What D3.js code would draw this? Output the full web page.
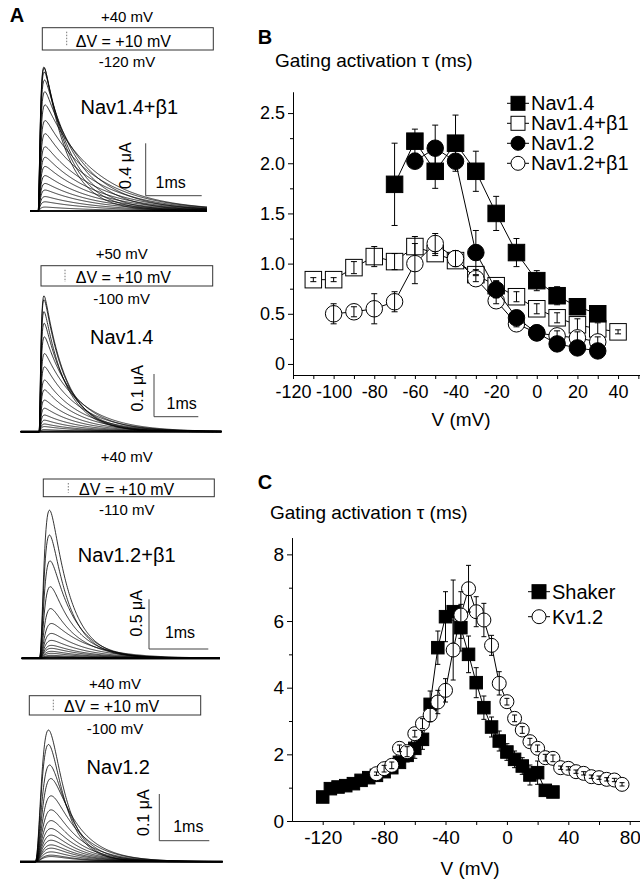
<!DOCTYPE html>
<html>
<head>
<meta charset="utf-8">
<script src="https://cdn.jsdelivr.net/npm/d3@7"></script>
<style>
  body { margin: 0; background: #fff; }
  svg { display: block; }
  text { font-family: "Liberation Sans", Arial, sans-serif; fill: #000; }
</style>
</head>
<body>
<div id="fig"></div>
<script>
// ---------- Panel B data: gating activation tau (ms) vs V (mV) ----------
const nav14V = [-70, -60, -50, -40, -30, -20, -10, 0, 10, 20, 30];
const nav14Tau = [1.79, 2.22, 1.92, 2.20, 1.92, 1.50, 1.11, 0.83, 0.68, 0.57, 0.50];
const nav14Err = [0.41, 0.12, 0.17, 0.28, 0.20, 0.17, 0.14, 0.10, 0.09, 0.05, 0.05];

const nav14b1V = [-110, -100, -90, -80, -70, -60, -50, -40, -30, -20, -10, 0, 10, 20, 30, 40];
const nav14b1Tau = [0.84, 0.84, 0.96, 1.07, 1.02, 1.17, 1.10, 1.03, 0.89, 0.78, 0.67, 0.55, 0.46, 0.39, 0.35, 0.32];
const nav14b1Err = [0.02, 0.02, 0.06, 0.10, 0.08, 0.10, 0.02, 0.02, 0.05, 0.05, 0.05, 0.05, 0.05, 0.06, 0.06, 0.02];

const nav12V = [-60, -50, -40, -30, -20, -10, 0, 10, 20, 30];
const nav12Tau = [2.02, 2.15, 2.02, 1.11, 0.74, 0.46, 0.31, 0.20, 0.16, 0.13];
const nav12Err = [0.05, 0.23, 0.05, 0.22, 0.08, 0.05, 0.03, 0.03, 0.03, 0.02];

const nav12b1V = [-100, -90, -80, -70, -60, -50, -40, -30, -20, -10, 0, 10, 20, 30];
const nav12b1Tau = [0.50, 0.52, 0.55, 0.62, 1.00, 1.20, 1.05, 0.85, 0.63, 0.40, 0.31, 0.28, 0.26, 0.22];
const nav12b1Err = [0.10, 0.05, 0.15, 0.10, 0.20, 0.10, 0.08, 0.03, 0.03, 0.03, 0.05, 0.05, 0.06, 0.05];

// ---------- Panel C data ----------
const shakerV = [-120, -115, -110, -105, -100, -95, -90, -85, -80, -75, -70, -65, -60, -55, -50, -45,
  -40, -35, -30, -25, -20, -15, -10, -5, 0, 5, 10, 15, 20, 25, 30];
const shakerTau = [0.72, 0.97, 1.02, 1.06, 1.12, 1.22, 1.30, 1.37, 1.48, 1.60, 1.76, 1.97, 2.18, 2.45, 3.50, 5.20,
  6.13, 6.28, 5.80, 5.00, 4.15, 3.40, 2.82, 2.40, 2.07, 1.85, 1.65, 1.38, 1.45, 0.92, 0.87];
const shakerErr = [0.05, 0.05, 0.05, 0.05, 0.05, 0.05, 0.05, 0.08, 0.08, 0.1, 0.12, 0.2, 0.3, 0.3, 0.4, 0.5,
  0.75, 0.95, 0.7, 0.55, 0.45, 0.35, 0.3, 0.3, 0.25, 0.25, 0.25, 0.3, 0.35, 0.05, 0.05];

const kv12V = [-85, -80, -75, -70, -65, -60, -55, -50, -45, -40, -35, -30, -25, -20, -15, -10, -5,
  0, 5, 10, 15, 20, 25, 30, 35, 40, 45, 50, 55, 60, 65, 70, 75];
const kv12Tau = [1.42, 1.57, 1.67, 2.18, 2.08, 2.62, 2.92, 3.18, 3.57, 3.92, 5.13, 6.18, 6.97, 6.28, 6.03, 5.27, 4.13,
  3.58, 3.08, 2.73, 2.38, 2.18, 1.90, 1.88, 1.60, 1.58, 1.48, 1.43, 1.33, 1.30, 1.25, 1.23, 1.10];
const kv12Err = [0.05, 0.1, 0.1, 0.1, 0.15, 0.1, 0.15, 0.2, 0.35, 0.35, 0.9, 0.7, 0.7, 0.45, 0.5, 0.3, 0.35,
  0.1, 0.1, 0.1, 0.1, 0.1, 0.1, 0.1, 0.05, 0.05, 0.05, 0.05, 0.05, 0.05, 0.05, 0.05, 0.05];

// ---------- Panel A data: gating current peaks (uA), one per test pulse ----------
const aNav14b1V = [-120, -110, -100, -90, -80, -70, -60, -50, -40, -30, -20, -10, 0, 10, 20, 30, 40];
const aNav14b1Peak = [0.03, 0.07, 0.11, 0.16, 0.21, 0.27, 0.34, 0.41, 0.49, 0.59, 0.69, 0.81, 0.91, 1.00, 1.06, 1.09, 1.10];

const aNav14V = [-100, -90, -80, -70, -60, -50, -40, -30, -20, -10, 0, 10, 20, 30, 40, 50];
const aNav14Peak = [0.005, 0.012, 0.018, 0.027, 0.039, 0.055, 0.074, 0.098, 0.121, 0.152, 0.183, 0.222, 0.254, 0.281, 0.309, 0.318];

const aNav12b1V = [-110, -100, -90, -80, -70, -60, -50, -40, -30, -20, -10, 0, 10, 20, 30, 40];
const aNav12b1Peak = [0.01, 0.01, 0.02, 0.03, 0.05, 0.07, 0.10, 0.13, 0.18, 0.25, 0.35, 0.50, 0.72, 0.98, 1.24, 1.49];

const aNav12V = [-100, -90, -80, -70, -60, -50, -40, -30, -20, -10, 0, 10, 20, 30, 40];
const aNav12Peak = [0.011, 0.014, 0.021, 0.029, 0.036, 0.046, 0.057, 0.071, 0.088, 0.111, 0.141, 0.178, 0.207, 0.251, 0.282];

// ---------- figure ----------
const W = 640, H = 882;
const svg = d3.select("#fig").append("svg").attr("width", W).attr("height", H);
const font = "'Liberation Sans', Arial, sans-serif";

function label(x, y, str, size, opts = {}) {
  const t = svg.append("text")
    .attr("x", x)
    .attr("y", y + size * 0.35)
    .attr("font-size", size)
    .attr("text-anchor", opts.anchor || "middle")
    .text(str);
  if (opts.bold) t.attr("font-weight", "bold");
  if (opts.rotate) t.attr("transform", `rotate(-90, ${x}, ${y})`);
  return t;
}

// nearest tau from panel B for a given test voltage
function tauAt(v, vs, taus) {
  let best = 0;
  vs.forEach((d, i) => { if (Math.abs(d - v) < Math.abs(vs[best] - v)) best = i; });
  return taus[best];
}

/*
Panel A sub-panels: layout of each family of traces.
*/
const aPanels = [
  { name: "Nav1.4+β1", top: "+40 mV", bottom: "-120 mV", scale: "0.4 μA",
    v: aNav14b1V, peak: aNav14b1Peak, bv: nav14b1V, btau: nav14b1Tau,
    x0: 30, x1: 207, msPx: 56, onset: 38.3, base: 211, uaPx: 131,
    rise: 0.03, pow: 2, decayK: 1.3, maxTd: 0.9,
    topY: 17, box: [42.3, 27.7, 213.3, 50], dash: 66.7, dv: [123.3, 41], botY: 62, nameXY: [129.3, 107],
    bar: [145.7, 143.3, 195.7, 201.7], msXY: [170.7, 182.7], uaXY: [125, 165.7], textX: 127 },
  { name: "Nav1.4", top: "+50 mV", bottom: "-100 mV", scale: "0.1 μA",
    v: aNav14V, peak: aNav14Peak, bv: nav14V, btau: nav14Tau,
    x0: 20.7, x1: 221.7, msPx: 44.3, onset: 39.3, base: 431.7, uaPx: 427,
    rise: 0.03, pow: 2, decayK: 1.0, maxTd: 0.8,
    topY: 253.3, box: [41, 265.7, 212.7, 286], dash: 65, dv: [123.3, 277.5], botY: 299, nameXY: [121.7, 336.7],
    bar: [154, 374, 416.7, 198.3], msXY: [181.7, 403.3], uaXY: [137.7, 388.3], textX: 121.7 },
  { name: "Nav1.2+β1", top: "+40 mV", bottom: "-110 mV", scale: "0.5 μA",
    v: aNav12b1V, peak: aNav12b1Peak, bv: nav12b1V, btau: nav12b1Tau,
    x0: 21.7, x1: 220, msPx: 59.3, onset: 39.3, base: 658.3, uaPx: 99.4,
    rise: 0.06, pow: 3, decayK: 1.5, maxTd: 0.6,
    topY: 456.7, box: [43.3, 479, 214.3, 496.7], dash: 68.3, dv: [126.7, 489], botY: 510, nameXY: [126.7, 555],
    bar: [149, 599.3, 649, 208.3], msXY: [180, 632.7], uaXY: [136.7, 613.3], textX: 126.7 },
  { name: "Nav1.2", top: "+40 mV", bottom: "-100 mV", scale: "0.1 μA",
    v: aNav12V, peak: aNav12Peak, bv: nav12V, btau: nav12Tau,
    x0: 20, x1: 222.7, msPx: 50, onset: 35, base: 861.7, uaPx: 467,
    rise: 0.12, pow: 3, decayK: 2.6, maxTd: 0.55,
    topY: 683.3, box: [29.3, 695.7, 200.7, 715], dash: 53.3, dv: [111.7, 706.5], botY: 729, nameXY: [118.3, 766.7],
    bar: [159.3, 794, 840.7, 209.3], msXY: [188.3, 826.7], uaXY: [143.3, 812.7], textX: 115 }
];

label(17, 15, "A", 20, { bold: true });

aPanels.forEach(p => {
  const tEnd = (p.x1 - p.x0) / p.msPx;
  const t0 = (p.onset - p.x0) / p.msPx;
  const tx = d3.scaleLinear().domain([0, tEnd]).range([p.x0, p.x1]);
  const ty = d3.scaleLinear().domain([0, 1]).range([p.base, p.base - p.uaPx]);
  const ts = d3.range(0, tEnd + 0.001, 0.01);

  const g = svg.append("g");
  // baseline (overlapping noisy traces look thick)
  g.append("line")
    .attr("x1", p.x0).attr("x2", p.x1)
    .attr("y1", p.base).attr("y2", p.base)
    .attr("stroke", "#111").attr("stroke-width", 2.2);

  p.v.forEach((v, i) => {
    const td = Math.min(tauAt(v, p.bv, p.btau) * p.decayK, p.maxTd);
    const shape = t => {
      if (t < t0) return 0;
      const s = t - t0;
      return Math.pow(1 - Math.exp(-s / p.rise), p.pow) * Math.exp(-s / td);
    };
    const norm = d3.max(ts, shape);
    const pts = ts.map(t => [t, p.peak[i] * shape(t) / norm]);
    g.append("path")
      .datum(pts)
      .attr("fill", "none")
      .attr("stroke", "#000")
      .attr("stroke-width", 0.8)
      .attr("d", d3.line().x(d => tx(d[0])).y(d => ty(d[1])));
  });

  // protocol box
  label(p.textX, p.topY, p.top, 15);
  svg.append("rect")
    .attr("x", p.box[0]).attr("y", p.box[1])
    .attr("width", p.box[2] - p.box[0]).attr("height", p.box[3] - p.box[1])
    .attr("fill", "none").attr("stroke", "#333").attr("stroke-width", 1);
  svg.append("line")
    .attr("x1", p.dash).attr("x2", p.dash)
    .attr("y1", p.box[1] + 4).attr("y2", p.box[3] - 4)
    .attr("stroke", "#777").attr("stroke-dasharray", "1.5,1.5");
  label(p.dv[0], p.dv[1], "ΔV = +10 mV", 16);
  label(p.textX, p.botY, p.bottom, 15);
  label(p.nameXY[0], p.nameXY[1], p.name, 20);

  // scale bars
  const [bx, by0, by1, bx1] = p.bar;
  svg.append("path")
    .attr("d", `M${bx},${by0}V${by1}H${bx1}`)
    .attr("fill", "none").attr("stroke", "#444").attr("stroke-width", 1);
  label(p.msXY[0], p.msXY[1], "1ms", 16);
  label(p.uaXY[0], p.uaXY[1], p.scale, 16, { rotate: true });
});

/*
Draw one scatter/line series with error bars.
*/
function drawSeries(g, x, y, s, size, cap) {
  const pts = s.v.map((v, i) => ({ v: v, t: s.tau[i], e: s.err[i] }));
  g.append("path")
    .datum(pts)
    .attr("fill", "none")
    .attr("stroke", "#000")
    .attr("stroke-width", 1)
    .attr("d", d3.line().x(d => x(d.v)).y(d => y(d.t)));

  if (s.shape === "square") {
    g.selectAll(null).data(pts).enter().append("rect")
      .attr("x", d => x(d.v) - size / 2)
      .attr("y", d => y(d.t) - size / 2)
      .attr("width", size).attr("height", size)
      .attr("fill", s.fill).attr("stroke", "#000").attr("stroke-width", 1);
  } else {
    g.selectAll(null).data(pts).enter().append("circle")
      .attr("cx", d => x(d.v)).attr("cy", d => y(d.t))
      .attr("r", size / 2)
      .attr("fill", s.fill).attr("stroke", "#000").attr("stroke-width", 1);
  }

  const eb = g.selectAll(null).data(pts).enter().append("g");
  eb.append("line")
    .attr("x1", d => x(d.v)).attr("x2", d => x(d.v))
    .attr("y1", d => y(d.t - d.e)).attr("y2", d => y(d.t + d.e))
    .attr("stroke", "#000").attr("stroke-width", 1);
  eb.append("path")
    .attr("d", d => `M${x(d.v) - cap},${y(d.t + d.e)}h${2 * cap}M${x(d.v) - cap},${y(d.t - d.e)}h${2 * cap}`)
    .attr("stroke", "#000").attr("stroke-width", 1);
}

function legendRow(x, y, s, size, fontSize) {
  svg.append("line")
    .attr("x1", x - 11).attr("x2", x + 11).attr("y1", y).attr("y2", y)
    .attr("stroke", "#000");
  if (s.shape === "square") {
    svg.append("rect")
      .attr("x", x - size / 2).attr("y", y - size / 2)
      .attr("width", size).attr("height", size)
      .attr("fill", s.fill).attr("stroke", "#000");
  } else {
    svg.append("circle").attr("cx", x).attr("cy", y).attr("r", size / 2)
      .attr("fill", s.fill).attr("stroke", "#000");
  }
  label(x + 13, y, s.name, fontSize, { anchor: "start" });
}

function styleAxis(g, size) {
  g.attr("font-family", font).attr("font-size", size);
  g.selectAll("path, line").attr("stroke", "#000");
  g.selectAll("text").attr("fill", "#000");
}

const plain = d => String(d);   // hyphen minus, like the original

// ---------- Panel B ----------
const bX = d3.scaleLinear().domain([-120, 50.8]).range([293, 640]);
const bY = d3.scaleLinear().domain([-0.11, 2.71]).range([375, 92]);

label(265, 37, "B", 20, { bold: true });
label(275, 60, "Gating activation τ (ms)", 19, { anchor: "start" });

svg.append("g").attr("transform", "translate(293,0)")
  .call(d3.axisLeft(bY).tickValues(d3.range(0.25, 2.6, 0.5)).tickSize(3).tickSizeOuter(0).tickFormat(""))
  .call(styleAxis, 18);
svg.append("g").attr("transform", "translate(293,0)")
  .call(d3.axisLeft(bY).tickValues(d3.range(0, 2.6, 0.5)).tickSize(5).tickSizeOuter(0).tickPadding(3)
    .tickFormat(d => d === 0 ? "0" : d3.format(".1f")(d)))
  .call(styleAxis, 18);
svg.append("g").attr("transform", "translate(0,375)")
  .call(d3.axisBottom(bX).tickValues(d3.range(-110, 51, 20)).tickSize(4).tickSizeOuter(0).tickFormat(""))
  .call(styleAxis, 18);
svg.append("g").attr("transform", "translate(0,375)")
  .call(d3.axisBottom(bX).tickValues(d3.range(-120, 41, 20)).tickSize(4).tickSizeOuter(0).tickPadding(6)
    .tickFormat(plain))
  .call(styleAxis, 18);
label(461, 419.5, "V (mV)", 19);

const sNav14 = { name: "Nav1.4", v: nav14V, tau: nav14Tau, err: nav14Err, shape: "square", fill: "#000" };
const sNav14b1 = { name: "Nav1.4+β1", v: nav14b1V, tau: nav14b1Tau, err: nav14b1Err, shape: "square", fill: "#fff" };
const sNav12 = { name: "Nav1.2", v: nav12V, tau: nav12Tau, err: nav12Err, shape: "circle", fill: "#000" };
const sNav12b1 = { name: "Nav1.2+β1", v: nav12b1V, tau: nav12b1Tau, err: nav12b1Err, shape: "circle", fill: "#fff" };

const gB = svg.append("g");
[sNav14b1, sNav12b1, sNav12, sNav14].forEach(s => drawSeries(gB, bX, bY, s, 16.5, 3));
[sNav14, sNav14b1, sNav12, sNav12b1].forEach((s, i) => legendRow(518, 103.3 + 20 * i, s, 14, 20));

// ---------- Panel C ----------
const cX = d3.scaleLinear().domain([-140, 86.7]).range([292, 640]);
const cY = d3.scaleLinear().domain([0, 8.5]).range([821, 537.7]);

label(265, 481.7, "C", 20, { bold: true });
label(270, 512, "Gating activation τ (ms)", 19, { anchor: "start" });

svg.append("g").attr("transform", "translate(292,0)")
  .call(d3.axisLeft(cY).tickValues([1, 3, 5, 7]).tickSize(3).tickSizeOuter(0).tickFormat(""))
  .call(styleAxis, 19);
svg.append("g").attr("transform", "translate(292,0)")
  .call(d3.axisLeft(cY).tickValues([0, 2, 4, 6, 8]).tickSize(5).tickSizeOuter(0).tickPadding(3))
  .call(styleAxis, 19);
svg.append("g").attr("transform", "translate(0,821)")
  .call(d3.axisBottom(cX).tickValues(d3.range(-100, 81, 40)).tickSize(4).tickSizeOuter(0).tickFormat(""))
  .call(styleAxis, 19);
svg.append("g").attr("transform", "translate(0,821)")
  .call(d3.axisBottom(cX).tickValues(d3.range(-120, 81, 40)).tickSize(4).tickSizeOuter(0).tickPadding(6)
    .tickFormat(plain))
  .call(styleAxis, 19);
label(470, 868, "V (mV)", 19);

const sShaker = { name: "Shaker", v: shakerV, tau: shakerTau, err: shakerErr, shape: "square", fill: "#000" };
const sKv12 = { name: "Kv1.2", v: kv12V, tau: kv12Tau, err: kv12Err, shape: "circle", fill: "#fff" };

const gC = svg.append("g");
drawSeries(gC, cX, cY, sShaker, 12.5, 2.5);
drawSeries(gC, cX, cY, sKv12, 14, 2.5);
[sShaker, sKv12].forEach((s, i) => legendRow(539, 591.7 + 25 * i, s, 14, 20));
</script>
</body>
</html>
